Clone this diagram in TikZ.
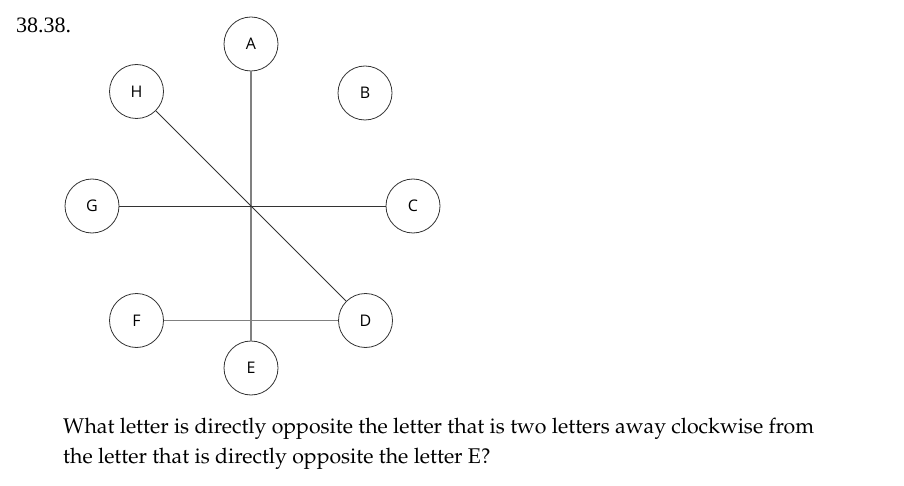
\documentclass[tikz,border=0pt]{standalone}
\usepackage[T1]{fontenc}
\usepackage{fontspec}
\newfontfamily\labelfont{Open Sans}
\newfontfamily\numfont{Liberation Serif}
\newcommand\questfont{\fontencoding{T1}\fontfamily{ppl}\selectfont}
\usetikzlibrary{automata, positioning}

\begin{document}
\begin{tikzpicture}[x=1pt,y=-1pt,
    every state/.style={draw=black!80,line width=0.8pt,minimum size=54pt,inner sep=0pt,
      font=\labelfont\fontsize{16}{19}\selectfont},
    greyline/.style={draw=black!50,line width=1.8pt},
    darkline/.style={draw=black!80,line width=0.9pt}]
    \useasboundingbox (0,0) rectangle (904,486);
    \node(label)[anchor=base west,inner sep=0pt,font=\numfont\fontsize{22}{26}\selectfont] at (16,33){38.38.};

    \node(s_a)[state] at (251,44){A};
    \node(s_b)[state] at (365,93){B};
    \node(s_c)[state] at (413,206){C};
    \node(s_d)[state] at (365.5,320.5){D};
    \node(s_e)[state] at (251,368){E};
    \node(s_f)[state] at (136.5,320.5){F};
    \node(s_g)[state] at (92,206){G};
    \node(s_h)[state] at (136.5,91.5){H};

    \path
    (s_a) edge[greyline] (s_e)
    (s_f) edge[greyline] (s_d)
    (s_g) edge[darkline] (s_c)
    (s_h) edge[darkline] (s_d)
    ;

    \node(question)[anchor=north west,inner sep=0pt,align=left,
      font=\questfont\fontsize{21.3}{30}\selectfont] at (63,418)
      {What letter is directly opposite the letter that is two letters away clockwise from\\
       the letter that is directly opposite the letter E?};
  \end{tikzpicture}
\end{document}
